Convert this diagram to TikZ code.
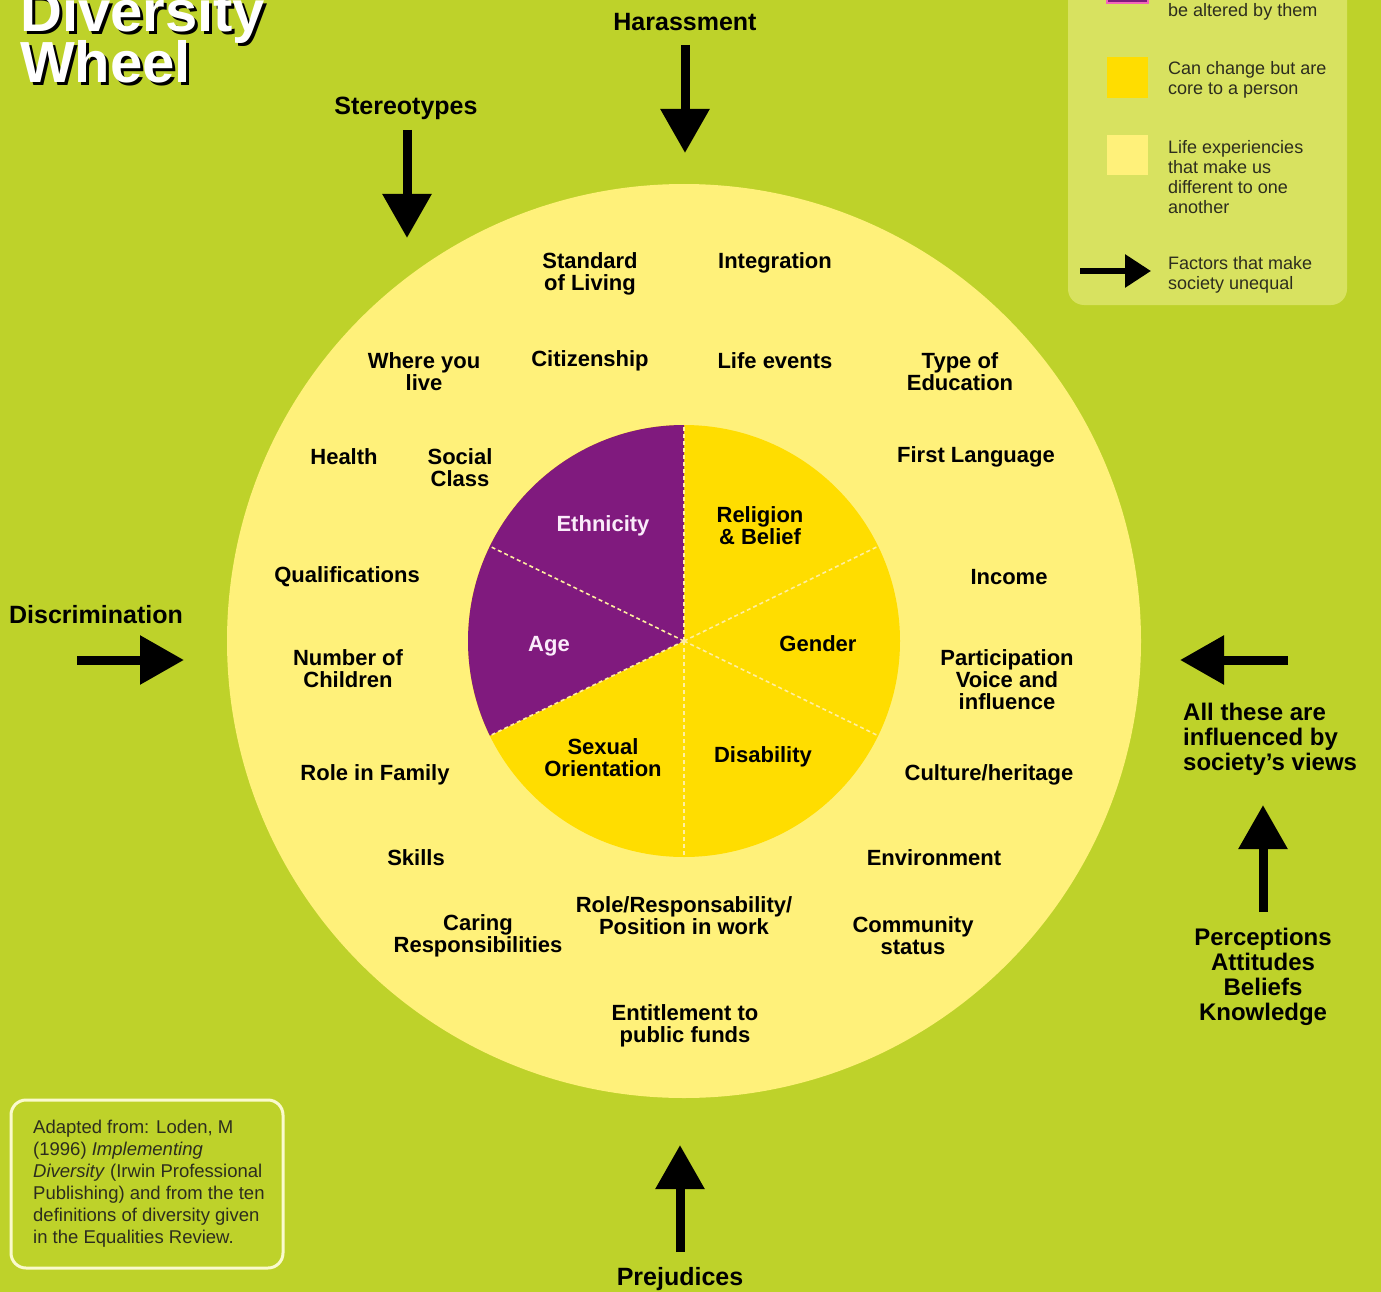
\documentclass[tikz,border=0pt]{standalone}
\usepackage{fontspec}
\setmainfont{Liberation Sans}
\usetikzlibrary{arrows.meta}
\definecolor{limebg}{RGB}{190,210,42}
\definecolor{outerring}{RGB}{255,241,122}
\definecolor{pieyellow}{RGB}{255,221,0}
\definecolor{piepurple}{RGB}{128,26,126}
\definecolor{legendbg}{RGB}{216,226,96}
\definecolor{legendtxt}{RGB}{45,45,30}
\definecolor{sepline}{RGB}{255,238,160}
\definecolor{whitetxt}{RGB}{250,236,250}
\definecolor{boxline}{RGB}{250,250,205}
\tikzset{
  lab/.style={font=\fontsize{22}{22}\selectfont\bfseries, align=center, inner sep=0pt, text=black, yshift=-2pt},
  biglab/.style={font=\fontsize{25}{25}\selectfont\bfseries, align=center, inner sep=0pt, text=black, yshift=-2pt},
  sidelab/.style={font=\fontsize{24}{25}\selectfont\bfseries, inner sep=0pt, text=black, yshift=-2pt},
  legtext/.style={font=\fontsize{18}{20}\selectfont, align=left, inner sep=0pt, anchor=west, text=legendtxt, yshift=-2pt},
  bigarrow/.style={line width=9pt, -{Triangle[length=44pt,width=47pt]}},
  smallarrow/.style={line width=6pt, -{Triangle[length=26pt,width=32pt]}},
  sep/.style={draw=sepline, line width=1.6pt, dash pattern=on 4pt off 3pt},
  titletxt/.style={font=\fontsize{58}{58}\selectfont\bfseries, inner sep=0pt, anchor=base west},
}
\begin{document}
\begin{tikzpicture}[x=1pt,y=1pt]
\useasboundingbox (0,0) rectangle (1381,-1292);
\clip (0,0) rectangle (1381,-1292);
\fill[limebg] (0,0) rectangle (1381,-1292);

% title
\node[titletxt, text=black] (t1s) at (23,-35) {Diversity};
\node[titletxt, text=white] (t1) at (20,-32) {Diversity};
\node[titletxt, text=black] (t2s) at (23,-86) {Wheel};
\node[titletxt, text=white] (t2) at (20,-83) {Wheel};

% legend
\fill[legendbg, rounded corners=16pt] (1068,30) rectangle (1347,-305);
\fill[piepurple, draw=magenta!60, line width=2pt] (1107,40) rectangle (1148,-3);
\node[legtext] (lg1) at (1168,-10) {be altered by them};
\fill[pieyellow] (1107,-57) rectangle (1148,-98);
\node[legtext] (lg2) at (1168,-78) {Can change but are\\core to a person};
\fill[outerring] (1107,-135) rectangle (1148,-175);
\node[legtext] (lg3) at (1168,-175) {Life experiencies\\that make us\\different to one\\another};
\coordinate (la1) at (1080,-271);
\coordinate (la2) at (1151,-271);
\draw[smallarrow] (la1) -- (la2);
\node[legtext] (lg4) at (1168,-273) {Factors that make\\society unequal};

% wheel
\coordinate (C) at (684,-641);
\fill[outerring] (C) circle (457pt);
\fill[pieyellow] (C) circle (216pt);
\fill[piepurple] (C) -- ++(90:216pt) arc[start angle=90, end angle=206, radius=216pt] -- cycle;
\foreach \a in {90,154,206,270,334,26}{
  \draw[sep] (C) -- ++(\a:216pt);
}

% pie labels
\node[lab, text=whitetxt] (eth) at (603,-524) {Ethnicity};
\node[lab] (rel) at (760,-524) {Religion\\\& Belief};
\node[lab, text=whitetxt] (age) at (549,-644) {Age};
\node[lab] (gen) at (818,-642) {Gender};
\node[lab] (sex) at (603,-756) {Sexual\\Orientation};
\node[lab] (dis) at (763,-755) {Disability};

% ring labels
\node[lab] (sol) at (590,-272) {Standard\\of Living};
\node[lab] (int) at (775,-261) {Integration};
\node[lab] (wyl) at (424,-370) {Where you\\live};
\node[lab] (cit) at (590,-359) {Citizenship};
\node[lab] (lev) at (775,-359) {Life events};
\node[lab] (toe) at (960,-370) {Type of\\Education};
\node[lab] (hea) at (344,-455) {Health};
\node[lab] (soc) at (460,-466) {Social\\Class};
\node[lab] (fla) at (976,-455) {First Language};
\node[lab] (qua) at (347,-575) {Qualifications};
\node[lab] (inc) at (1009,-575) {Income};
\node[lab] (noc) at (348,-667) {Number of\\Children};
\node[lab] (par) at (1007,-678) {Participation\\Voice and\\influence};
\node[lab] (rif) at (375,-773) {Role in Family};
\node[lab] (cul) at (989,-773) {Culture/heritage};
\node[lab] (ski) at (416,-856) {Skills};
\node[lab] (env) at (934,-856) {Environment};
\node[lab] (car) at (478,-934) {Caring\\Responsibilities};
\node[lab] (rrp) at (684,-914) {Role/Responsability/\\Position in work};
\node[lab] (com) at (913,-934) {Community\\status};
\node[lab] (ent) at (685,-1024) {Entitlement to\\public funds};

% outer factors
\node[biglab] (har) at (685,-20) {Harassment};
\coordinate (harA) at (685,-45);
\coordinate (harB) at (685,-153);
\draw[bigarrow] (harA) -- (harB);

\node[biglab] (ste) at (406,-106) {Stereotypes};
\coordinate (steA) at (407,-130);
\coordinate (steB) at (407,-238);
\draw[bigarrow] (steA) -- (steB);

\node[biglab] (dsc) at (96,-613) {Discrimination};
\coordinate (dscA) at (77,-660);
\coordinate (dscB) at (184,-660);
\draw[bigarrow] (dscA) -- (dscB);

\coordinate (infA) at (1288,-660);
\coordinate (infB) at (1180,-660);
\draw[bigarrow] (infA) -- (infB);
\node[sidelab, anchor=west, align=left] (inf) at (1183,-737) {All these are\\influenced by\\society's views};

\coordinate (perA) at (1263,-912);
\coordinate (perB) at (1263,-805);
\draw[bigarrow] (perA) -- (perB);
\node[sidelab, align=center] (per) at (1263,-975) {Perceptions\\Attitudes\\Beliefs\\Knowledge};

\node[biglab] (pre) at (680,-1277) {Prejudices};
\coordinate (preA) at (680,-1252);
\coordinate (preB) at (680,-1145);
\draw[bigarrow] (preA) -- (preB);

% citation box
\draw[boxline, line width=3pt, rounded corners=15pt] (11,-1100) rectangle (283,-1268);
\node[font=\fontsize{18.5}{22}\selectfont, align=left, inner sep=0pt, anchor=west, text=legendtxt, yshift=-2pt] (cite) at (33,-1182)
 {Adapted from: Loden, M\\(1996) \textit{Implementing}\\\textit{Diversity} (Irwin Professional\\Publishing) and from the ten\\definitions of diversity given\\in the Equalities Review.};
\end{tikzpicture}
\end{document}
